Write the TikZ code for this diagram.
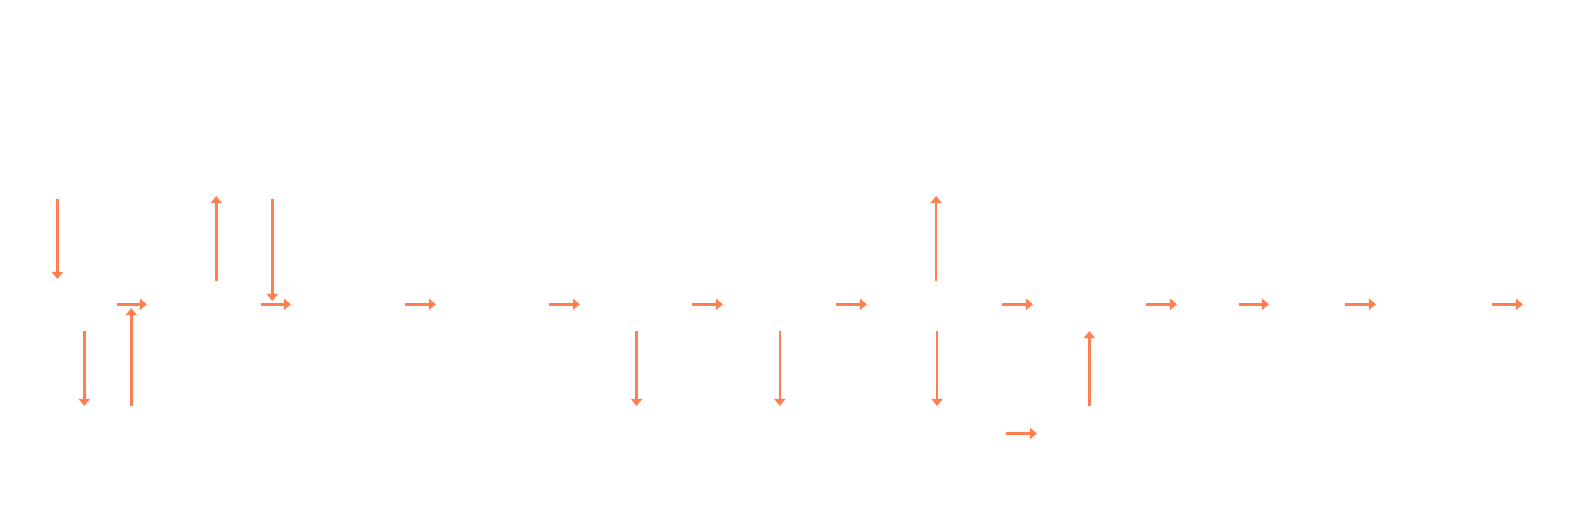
\documentclass[tikz,border=0pt]{standalone}
\usepackage{tikz}
\usetikzlibrary{arrows.meta,positioning}

\begin{document}
\begin{tikzpicture}[
    x=0.5pt, y=-0.5pt,
    flow/.style={draw=orange_line, line width=1.3pt, -{Triangle[length=3.6pt,width=5.6pt]}}
]
\definecolor{orange_line}{RGB}{255,127,80}

\useasboundingbox (0,0) rectangle (1592,519);

% upper row of vertical links
\coordinate (d1_top) at (57.3,199);
\coordinate (d1_bot) at (57.3,279);
\coordinate (u2_bot) at (216.3,281);
\coordinate (u2_top) at (216.3,196);
\coordinate (d3_top) at (272.3,199);
\coordinate (d3_bot) at (272.3,301);
\coordinate (u9_bot) at (936.1,281);
\coordinate (u9_top) at (936.1,196);

% main flow, left to right
\coordinate (m1_in) at (117,304.3);    \coordinate (m1_out) at (147,304.3);
\coordinate (m2_in) at (261,304.3);    \coordinate (m2_out) at (291,304.3);
\coordinate (m3_in) at (405,304.3);    \coordinate (m3_out) at (436,304.3);
\coordinate (m4_in) at (549,304.3);    \coordinate (m4_out) at (580,304.3);
\coordinate (m5_in) at (692,304.3);    \coordinate (m5_out) at (723,304.3);
\coordinate (m6_in) at (836,304.3);    \coordinate (m6_out) at (867,304.3);
\coordinate (m7_in) at (1002,304.3);   \coordinate (m7_out) at (1033,304.3);
\coordinate (m8_in) at (1146,304.3);   \coordinate (m8_out) at (1177,304.3);
\coordinate (m9_in) at (1239,304.3);   \coordinate (m9_out) at (1269,304.3);
\coordinate (m10_in) at (1345,304.3);  \coordinate (m10_out) at (1376,304.3);
\coordinate (m11_in) at (1492,304.3);  \coordinate (m11_out) at (1523,304.3);

% lower row of vertical links
\coordinate (d4_top) at (84.3,331);    \coordinate (d4_bot) at (84.3,406);
\coordinate (u5_bot) at (131.3,406);   \coordinate (u5_top) at (131.3,308);
\coordinate (d6_top) at (636.6,331);   \coordinate (d6_bot) at (636.6,406);
\coordinate (d7_top) at (779.8,331);   \coordinate (d7_bot) at (779.8,406);
\coordinate (d8_top) at (937.1,331);   \coordinate (d8_bot) at (937.1,406);
\coordinate (u10_bot) at (1089.4,406); \coordinate (u10_top) at (1089.4,331);

% side branch
\coordinate (s1_in) at (1006,433.5);   \coordinate (s1_out) at (1037,433.5);

\draw[flow] (d1_top) -- (d1_bot);
\draw[flow] (u2_bot) -- (u2_top);
\draw[flow] (d3_top) -- (d3_bot);
\draw[flow] (u9_bot) -- (u9_top);

\draw[flow] (m1_in) -- (m1_out);
\draw[flow] (m2_in) -- (m2_out);
\draw[flow] (m3_in) -- (m3_out);
\draw[flow] (m4_in) -- (m4_out);
\draw[flow] (m5_in) -- (m5_out);
\draw[flow] (m6_in) -- (m6_out);
\draw[flow] (m7_in) -- (m7_out);
\draw[flow] (m8_in) -- (m8_out);
\draw[flow] (m9_in) -- (m9_out);
\draw[flow] (m10_in) -- (m10_out);
\draw[flow] (m11_in) -- (m11_out);

\draw[flow] (d4_top) -- (d4_bot);
\draw[flow] (u5_bot) -- (u5_top);
\draw[flow] (d6_top) -- (d6_bot);
\draw[flow] (d7_top) -- (d7_bot);
\draw[flow] (d8_top) -- (d8_bot);
\draw[flow] (u10_bot) -- (u10_top);

\draw[flow] (s1_in) -- (s1_out);

\end{tikzpicture}
\end{document}
